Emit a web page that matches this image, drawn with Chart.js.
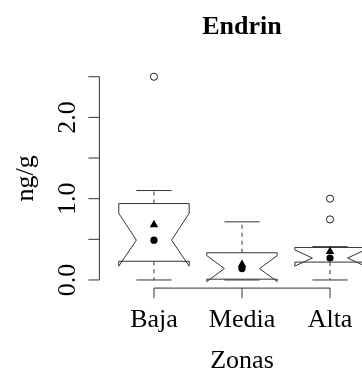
<!DOCTYPE html>
<html>
<head>
<meta charset="utf-8">
<title>Endrin</title>
<script src="https://cdn.jsdelivr.net/npm/chart.js@4.4.0/dist/chart.umd.min.js"></script>
<style>
  html, body { margin: 0; padding: 0; background: #fff; overflow: hidden; }
  #wrap { width: 385px; height: 372px; }
</style>
</head>
<body>
<div id="wrap"><canvas id="chart" width="385" height="372"></canvas></div>
<script>
// Boxplot summary per zone (ng/g)
const zonas = ['Baja', 'Media', 'Alta'];
const whiskerLow = [0.00, 0.00, 0.00];
const q1 = [0.23, 0.01, 0.22];
const medians = [0.49, 0.14, 0.27];
const q3 = [0.94, 0.335, 0.40];
const whiskerHigh = [1.10, 0.715, 0.41];
const notchLow = [0.17, -0.02, 0.17];
const notchHigh = [0.82, 0.30, 0.37];
const means = [0.68, 0.19, 0.35];

// Outliers: zone index (1-based) and value
const outlierZone = [1, 3, 3];
const outlierValue = [2.50, 1.00, 0.745];

// Axis ticks
const yTicks = [0, 0.5, 1, 1.5, 2, 2.5];
const yTickLabels = ['0.0', '', '1.0', '', '2.0', ''];

const FONT = '"Liberation Serif", "Times New Roman", serif';
const LINE = '#333';

const boxPlugin = {
    id: 'boxes',
    beforeDatasetsDraw(chart) {
        const { ctx, scales: { x, y }, chartArea } = chart;
        ctx.save();
        ctx.strokeStyle = LINE;
        ctx.lineWidth = 1;

        zonas.forEach((z, i) => {
            const cx = x.getPixelForValue(i + 1);
            const w = x.getPixelForValue(i + 1 + 0.4) - cx;
            const nf = 0.5;

            // whiskers (dashed) and staples
            ctx.setLineDash([4, 4]);
            ctx.beginPath();
            ctx.moveTo(cx, y.getPixelForValue(q3[i]));
            ctx.lineTo(cx, y.getPixelForValue(whiskerHigh[i]));
            ctx.moveTo(cx, y.getPixelForValue(q1[i]));
            ctx.lineTo(cx, y.getPixelForValue(whiskerLow[i]));
            ctx.stroke();
            ctx.setLineDash([]);
            ctx.beginPath();
            [whiskerHigh[i], whiskerLow[i]].forEach(v => {
                const py = y.getPixelForValue(v);
                ctx.moveTo(cx - w * nf, py);
                ctx.lineTo(cx + w * nf, py);
            });
            ctx.stroke();

            // notched box, same vertex order as R's bxp
            const pts = [
                [-1, q1[i]], [1, q1[i]], [1, notchLow[i]], [nf, medians[i]],
                [1, notchHigh[i]], [1, q3[i]], [-1, q3[i]], [-1, notchHigh[i]],
                [-nf, medians[i]], [-1, notchLow[i]]
            ];
            ctx.beginPath();
            pts.forEach(([fx, v], k) => {
                const px = cx + fx * w;
                const py = y.getPixelForValue(v);
                if (k === 0) ctx.moveTo(px, py); else ctx.lineTo(px, py);
            });
            ctx.closePath();
            ctx.fillStyle = '#fff';
            ctx.fill();
            ctx.stroke();
        });

        // y axis
        const y0 = y.getPixelForValue(yTicks[0]);
        const y1 = y.getPixelForValue(yTicks[yTicks.length - 1]);
        const ax = chartArea.left;
        ctx.beginPath();
        ctx.moveTo(ax, y0);
        ctx.lineTo(ax, y1);
        yTicks.forEach(t => {
            const py = y.getPixelForValue(t);
            ctx.moveTo(ax, py);
            ctx.lineTo(ax - 11, py);
        });
        // x axis
        const ay = chartArea.bottom;
        ctx.moveTo(x.getPixelForValue(1), ay);
        ctx.lineTo(x.getPixelForValue(zonas.length), ay);
        zonas.forEach((z, i) => {
            const px = x.getPixelForValue(i + 1);
            ctx.moveTo(px, ay);
            ctx.lineTo(px, ay + 10);
        });
        ctx.stroke();

        // labels
        ctx.fillStyle = '#000';
        ctx.font = '26px ' + FONT;
        ctx.textAlign = 'center';
        ctx.textBaseline = 'alphabetic';
        zonas.forEach((z, i) => {
            ctx.fillText(z, x.getPixelForValue(i + 1), 327);
        });
        const midX = (chartArea.left + chartArea.right) / 2;
        ctx.fillText('Zonas', midX, 368);

        yTicks.forEach((t, k) => {
            if (!yTickLabels[k]) return;
            ctx.save();
            ctx.translate(75, y.getPixelForValue(t));
            ctx.rotate(-Math.PI / 2);
            ctx.fillText(yTickLabels[k], 0, 0);
            ctx.restore();
        });

        ctx.save();
        ctx.translate(33, (chartArea.top + chartArea.bottom) / 2);
        ctx.rotate(-Math.PI / 2);
        ctx.fillText('ng/g', 0, 0);
        ctx.restore();

        ctx.font = 'bold 26px ' + FONT;
        ctx.fillText('Endrin', midX, 33.5);
        ctx.restore();
    }
};

const ctx = document.getElementById('chart').getContext('2d');
new Chart(ctx, {
    type: 'scatter',
    data: {
        datasets: [
            {
                label: 'outliers',
                data: outlierZone.map((z, k) => ({ x: z, y: outlierValue[k] })),
                pointStyle: 'circle',
                pointRadius: 3.6,
                borderWidth: 1,
                borderColor: '#222',
                backgroundColor: 'rgba(0,0,0,0)'
            },
            {
                label: 'medias',
                data: means.map((m, i) => ({ x: i + 1, y: m })),
                pointStyle: 'triangle',
                pointRadius: 4.9,
                borderWidth: 0,
                backgroundColor: '#000'
            },
            {
                label: 'medianas',
                data: medians.map((m, i) => ({ x: i + 1, y: m })),
                pointStyle: 'circle',
                pointRadius: 3.6,
                borderWidth: 0,
                backgroundColor: '#000'
            }
        ]
    },
    options: {
        responsive: false,
        animation: false,
        layout: {
            autoPadding: false,
            padding: { left: 99.4, right: 0.4, top: 68.6, bottom: 83.9 }
        },
        scales: {
            x: { type: 'linear', min: 0.38, max: 3.62, display: false },
            y: { type: 'linear', min: -0.1, max: 2.6, display: false }
        },
        plugins: {
            legend: { display: false },
            title: { display: false },
            tooltip: { enabled: false }
        }
    },
    plugins: [boxPlugin]
});
</script>
</body>
</html>
